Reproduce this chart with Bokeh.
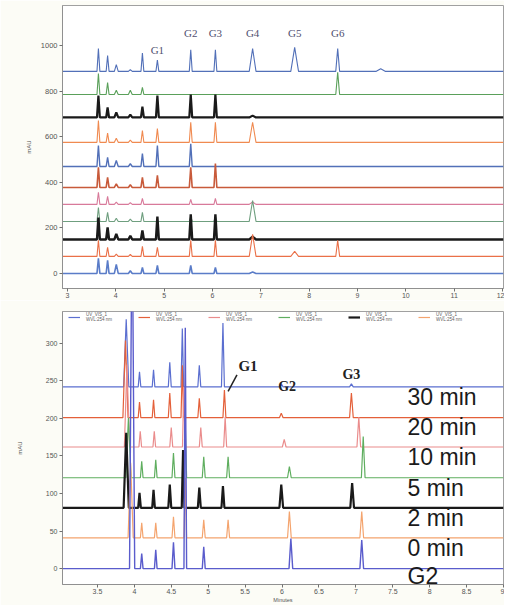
from bokeh.plotting import figure
from bokeh.layouts import column
from bokeh.models import Range1d, FixedTicker, Label, Legend, LegendItem
from bokeh.embed import file_html
from bokeh.resources import INLINE

# ---------------- top panel data ----------------
top_rt = [3.64, 3.83, 4.01, 4.30, 4.55, 4.86, 5.55, 6.06, 6.83, 7.70, 8.59, 9.48]
top_hw = [0.03, 0.03, 0.04, 0.04, 0.03, 0.03, 0.03, 0.03, 0.07, 0.08, 0.04, 0.10]
top_offsets = [886, 785, 684, 575, 469, 377, 303, 228, 149, 75, 0]
top_h_01 = [100, 70, 30, 8, 80, 50, 95, 95, 100, 105, 100, 12]
top_h_02 = [92, 52, 18, 18, 31, 0, 0, 0, 0, 0, 97, 0]
top_h_03 = [96, 44, 22, 12, 48, 96, 100, 100, 8, 0, 0, 0]
top_h_04 = [96, 40, 18, 10, 52, 60, 88, 88, 88, 0, 0, 0]
top_h_05 = [92, 40, 26, 12, 57, 92, 100, 0, 0, 0, 0, 0]
top_h_06 = [88, 44, 16, 12, 44, 53, 88, 105, 0, 0, 0, 0]
top_h_07 = [53, 35, 10, 8, 26, 0, 22, 26, 10, 0, 0, 0]
top_h_08 = [61, 40, 14, 10, 40, 0, 22, 22, 92, 0, 0, 0]
top_h_09 = [96, 53, 24, 16, 40, 100, 110, 110, 12, 0, 0, 0]
top_h_10 = [70, 40, 10, 8, 44, 40, 70, 70, 96, 22, 70, 0]
top_h_11 = [66, 57, 40, 12, 26, 35, 35, 26, 6, 0, 0, 0]
top_heights = [top_h_01, top_h_02, top_h_03, top_h_04, top_h_05, top_h_06,
               top_h_07, top_h_08, top_h_09, top_h_10, top_h_11]
top_colors = ["#5270b8", "#5aa05a", "#1a1a1a", "#f08a50", "#5270b8", "#c85a3a",
              "#d87a9a", "#6f9f7f", "#1a1a1a", "#ea7048", "#5a7cc8"]
top_line_w = [1.1, 1.1, 2.2, 1.1, 1.4, 1.6, 1.1, 1.1, 2.4, 1.1, 1.6]
top_peak_names = ["G1", "G2", "G3", "G4", "G5", "G6"]
top_peak_rt = [4.86, 5.55, 6.06, 6.83, 7.70, 8.59]
top_x_ticks = [3, 4, 5, 6, 7, 8, 9, 10, 11, 12]
top_y_ticks = [0, 200, 400, 600, 800, 1000]

# ---------------- bottom panel data ----------------
bot_labels = ["30 min", "20 min", "10 min", "5 min", "2 min", "0 min", "G2"]
bot_offsets = [242, 201, 162, 121, 81, 41, 0]
bot_hw = [0.035, 0.018, 0.018, 0.02, 0.018, 0.02, 0.02, 0.025, 0.025]
bot_rt_30 = [3.89, 4.07, 4.26, 4.48, 4.65, 4.88, 5.20, 5.99, 6.94]
bot_h_30 = [90, 20, 23, 33, 78, 29, 85, 4, 4]
bot_rt_20 = [3.88, 4.07, 4.26, 4.48, 4.65, 4.88, 5.22, 5.99, 6.94]
bot_h_20 = [103, 21, 24, 33, 70, 26, 37, 6, 33]
bot_rt_10 = [3.90, 4.08, 4.27, 4.50, 4.67, 4.90, 5.23, 6.03, 7.04]
bot_h_10 = [110, 21, 21, 26, 80, 26, 40, 10, 40]
bot_rt_05 = [3.92, 4.10, 4.29, 4.53, 4.69, 4.94, 5.27, 6.10, 7.10]
bot_h_05 = [80, 22, 24, 33, 70, 28, 28, 15, 55]
bot_rt_02 = [3.89, 4.07, 4.26, 4.48, 4.66, 4.88, 5.20, 5.99, 6.95]
bot_h_02 = [100, 20, 24, 31, 77, 27, 29, 31, 33]
bot_rt_00 = [3.95, 4.10, 4.29, 4.53, 4.69, 4.94, 5.27, 6.10, 7.08]
bot_h_00 = [100, 20, 20, 28, 80, 24, 24, 35, 35]
bot_rt_g2 = [3.97, 4.10, 4.29, 4.53, 4.69, 4.94, 5.27, 6.12, 7.08]
bot_h_g2 = [500, 20, 25, 35, 321, 29, 0, 40, 38]
bot_rts = [bot_rt_30, bot_rt_20, bot_rt_10, bot_rt_05, bot_rt_02, bot_rt_00, bot_rt_g2]
bot_hs = [bot_h_30, bot_h_20, bot_h_10, bot_h_05, bot_h_02, bot_h_00, bot_h_g2]
bot_colors = ["#5b6fd0", "#e4603a", "#ea8c8c", "#5fae5f", "#1a1a1a", "#f4a46e", "#5a5ccc"]
bot_line_w = [1.2, 1.2, 1.2, 1.2, 2.2, 1.2, 1.4]
bot_x_ticks = [3.5, 4.0, 4.5, 5.0, 5.5, 6.0, 6.5, 7.0, 7.5, 8.0, 8.5, 9.0]
bot_y_ticks = [0, 50, 100, 150, 200, 250, 300]
bot_peak_names = ["G1", "G2", "G3"]
legend_text = "UV_VIS_1\nWVL:254 nm"


def trace(rts, hs, hws, offset, x0, x1):
    xs, ys = [x0], [offset]
    for rt, h, hw in sorted(zip(rts, hs, hws)):
        if h <= 0:
            continue
        xs += [rt - hw, rt, rt + hw]
        ys += [offset, offset + h, offset]
    xs.append(x1)
    ys.append(offset)
    return xs, ys


def style(p):
    p.grid.visible = False
    p.outline_line_color = "#a0a0a0"
    p.border_fill_color = "#fcfcf6"
    p.background_fill_color = "white"
    for ax in (p.xaxis, p.yaxis):
        ax.axis_line_color = "#909090"
        ax.major_tick_line_color = "#707070"
        ax.minor_tick_line_color = None
        ax.major_tick_out = 3
        ax.major_tick_in = 0
        ax.major_label_text_color = "#555555"
        ax.major_label_text_font = "Liberation Sans"
        ax.axis_label_text_color = "#555555"
        ax.axis_label_text_font = "Liberation Sans"
        ax.axis_label_text_font_style = "normal"
        ax.axis_label_text_font_size = "6px"


TX0, TX1 = 2.897, 12.02
BX0, BX1 = 3.027, 9.0
BY0, BY1 = -21.2, 342.5

# ---------------- top figure ----------------
p1 = figure(width=504, height=300, x_range=Range1d(TX0, TX1), y_range=Range1d(-66, 1175),
            output_backend="svg", toolbar_location=None,
            min_border_left=62, min_border_right=1, min_border_top=5, min_border_bottom=12)
style(p1)
p1.xaxis.ticker = FixedTicker(ticks=top_x_ticks)
p1.yaxis.ticker = FixedTicker(ticks=top_y_ticks)
p1.xaxis.major_label_text_font_size = "7px"
p1.yaxis.major_label_text_font_size = "7.5px"
p1.xaxis.major_label_standoff = 1
p1.yaxis.major_label_standoff = 2
p1.yaxis.axis_label = "mAU"
p1.yaxis.axis_label_standoff = 6

for off, hs, col, lw in zip(top_offsets, top_heights, top_colors, top_line_w):
    xs, ys = trace(top_rt, hs, top_hw, off, TX0, TX1)
    p1.line(xs, ys, line_color=col, line_width=lw)

for name, rt in zip(top_peak_names, top_peak_rt):
    p1.add_layout(Label(x=rt, y=978 if name == "G1" else 1053, text=name,
                        text_align="center", text_baseline="middle",
                        text_font="Liberation Serif", text_font_size="11px",
                        text_color="#505070"))

# ---------------- bottom figure ----------------
p2 = figure(width=504, height=305, x_range=Range1d(BX0, BX1), y_range=Range1d(BY0, BY1),
            output_backend="svg", toolbar_location=None,
            min_border_left=62, min_border_right=1, min_border_top=11, min_border_bottom=20)
style(p2)
p2.xaxis.ticker = FixedTicker(ticks=bot_x_ticks)
p2.xaxis.major_label_overrides = {9.0: "9"}
p2.yaxis.ticker = FixedTicker(ticks=bot_y_ticks)
p2.xaxis.major_label_text_font_size = "7px"
p2.yaxis.major_label_text_font_size = "7px"
p2.xaxis.major_label_standoff = 1
p2.yaxis.major_label_standoff = 2
p2.xaxis.axis_label = "Minutes"
p2.xaxis.axis_label_text_font_size = "5.5px"
p2.xaxis.axis_label_standoff = 0
p2.yaxis.axis_label = "mAU"
p2.yaxis.axis_label_standoff = 20

renderers = []
for rts, hs, off, col, lw in zip(bot_rts, bot_hs, bot_offsets, bot_colors, bot_line_w):
    xs, ys = trace(rts, hs, bot_hw, off, BX0, BX1)
    renderers.append(p2.line(xs, ys, line_color=col, line_width=lw))

legend = Legend(items=[LegendItem(label=legend_text, renderers=[r]) for r in renderers[:6]],
                orientation="horizontal", location=(6, 262),
                label_text_font_size="4.5px", label_text_color="#606060",
                label_text_line_height=1.1,
                glyph_width=12, glyph_height=6, label_standoff=6, spacing=12,
                padding=0, margin=0, border_line_alpha=0, background_fill_alpha=0,
                label_height=8, label_width=40)
p2.add_layout(legend)

# right-hand trace labels, just under each trace's baseline (kept inside the frame)
for lab, off in zip(bot_labels, bot_offsets):
    p2.add_layout(Label(x=7.70, y=max(off - 13, BY0 + 11.5), text=lab, text_align="left",
                        text_baseline="middle", text_font="Liberation Sans",
                        text_font_size="23px", text_color="#1a1a1a"))

# peak annotations in the bottom panel
p2.add_layout(Label(x=5.41, y=270, text=bot_peak_names[0], text_align="left", text_baseline="middle",
                    text_font="Liberation Serif", text_font_style="bold", text_font_size="15px",
                    text_color="#222222"))
p2.add_layout(Label(x=6.07, y=243, text=bot_peak_names[1], text_align="center", text_baseline="middle",
                    text_font="Liberation Serif", text_font_style="bold", text_font_size="14px",
                    text_color="#222222"))
p2.add_layout(Label(x=6.94, y=258, text=bot_peak_names[2], text_align="center", text_baseline="middle",
                    text_font="Liberation Serif", text_font_style="bold", text_font_size="14px",
                    text_color="#222222"))
p2.line([5.27, 5.39], [236, 258], line_color="#222222", line_width=1.5)

layout = column(p1, p2, spacing=0)
open("out.html", "w").write(file_html(layout, INLINE))
